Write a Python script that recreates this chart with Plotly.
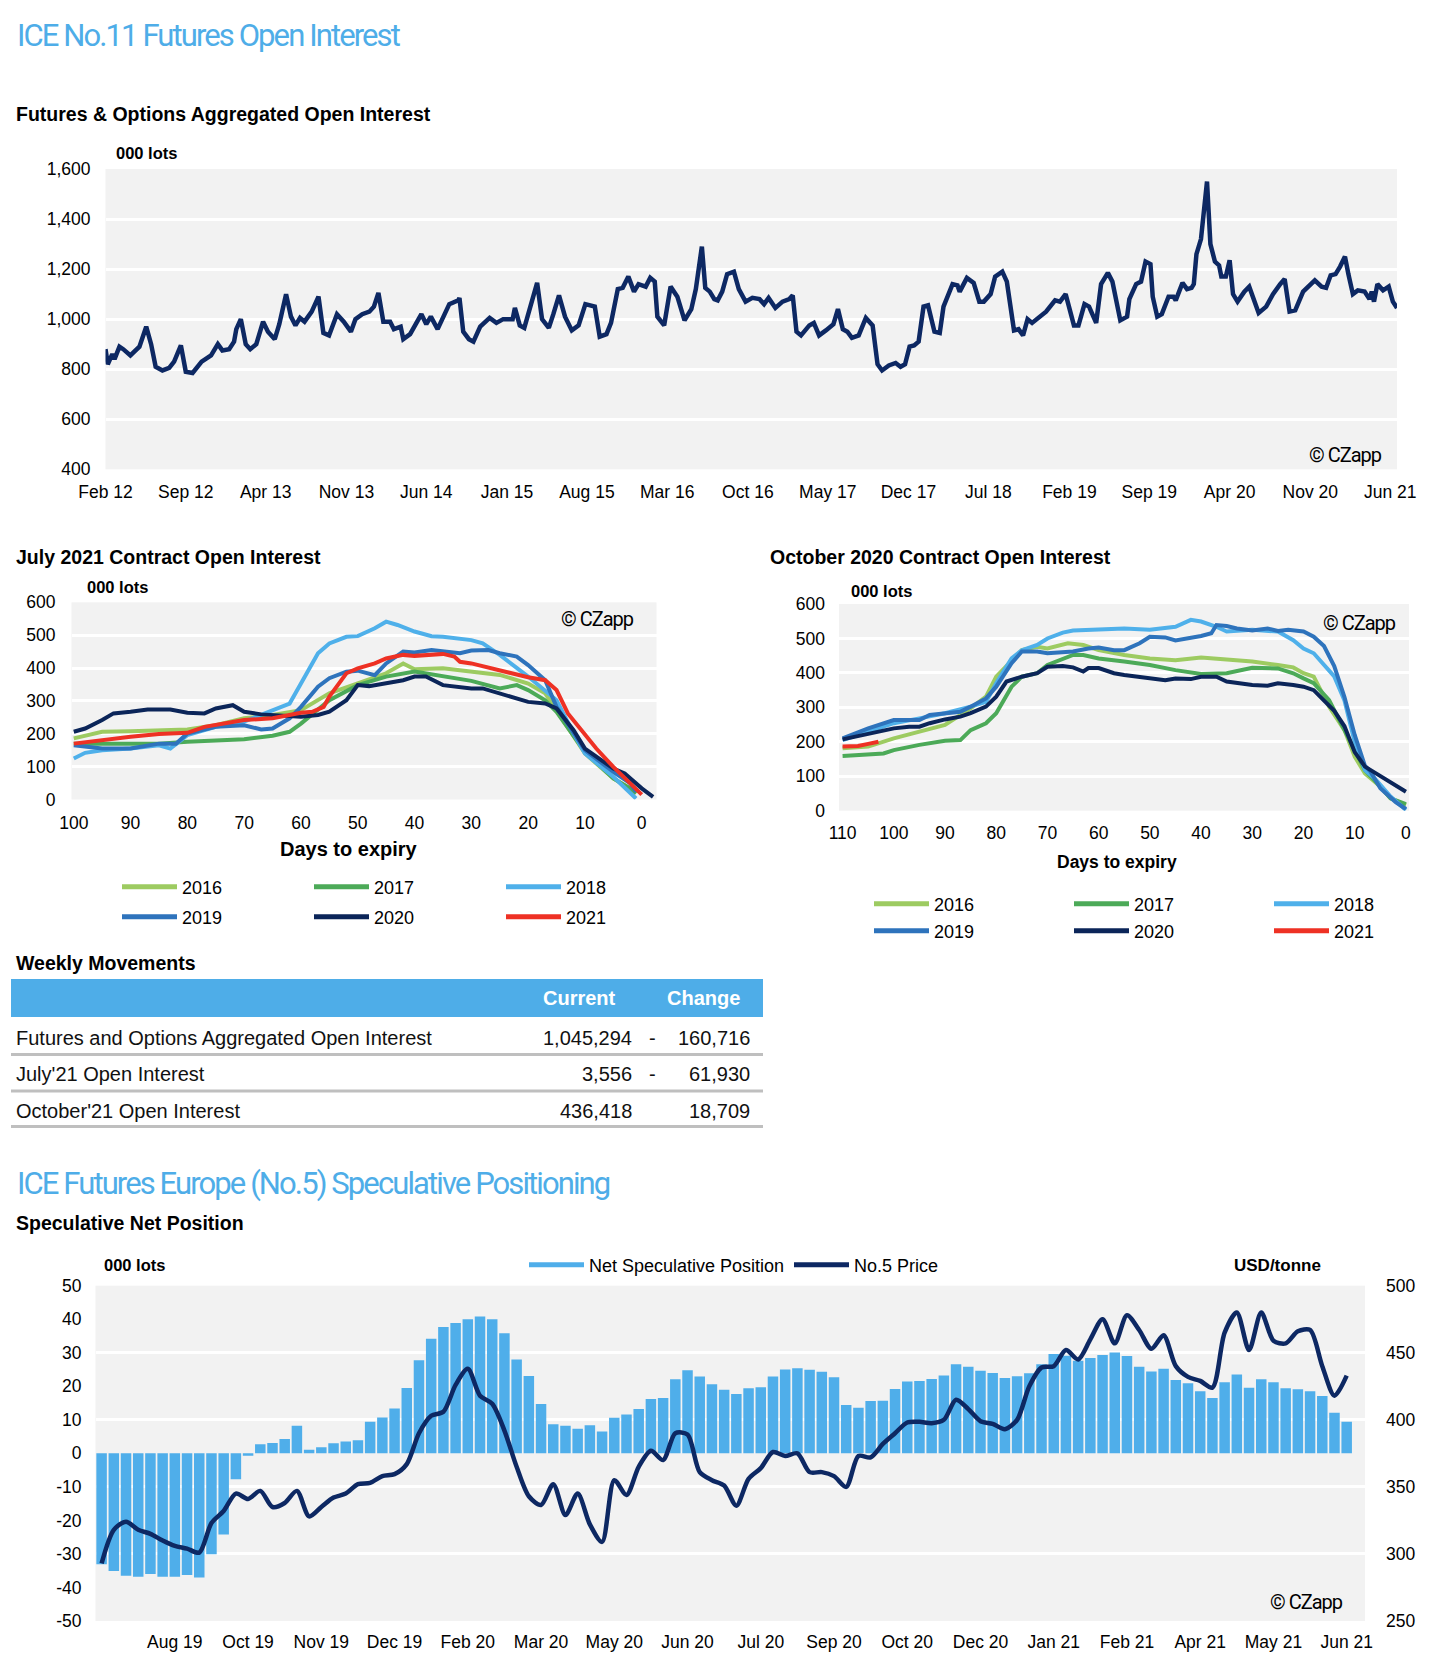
import plotly.graph_objects as go
import pandas as pd

W, H = 1446, 1678
def px(x): return x / W
def py(y): return 1 - y / H

FONT = "Liberation Sans, Arial, Helvetica, sans-serif"
NARROW = "Roboto, Liberation Sans, Arial, sans-serif"
BLUE_T = "#4EADE8"
NAVY = "#0D2863"
BAR = "#4FAEEA"
GRID = "#FFFFFF"
BG = "#F2F2F2"
COL = {"2016": "#9DCB61", "2017": "#4CAA58", "2018": "#4FB0EA",
       "2019": "#2E73BC", "2020": "#0B2559", "2021": "#EE3124"}

# ---------------- Top chart: aggregated open interest (000 lots) ----------------
TOP_DATES = [
 "2012-02-01","2012-02-07","2012-02-19","2012-02-25","2012-03-09","2012-03-19","2012-04-07","2012-04-19",
 "2012-05-01","2012-05-19","2012-06-01","2012-06-13","2012-07-01","2012-07-19","2012-08-01","2012-08-19",
 "2012-09-01","2012-09-19","2012-10-13","2012-11-07","2012-11-25","2012-12-07","2012-12-25","2013-01-07",
 "2013-01-13","2013-01-25","2013-02-07","2013-02-19","2013-03-07","2013-03-25","2013-04-07","2013-04-25",
 "2013-05-07","2013-05-25","2013-06-07","2013-06-19","2013-07-01","2013-07-13","2013-08-01","2013-08-19",
 "2013-09-01","2013-09-16","2013-10-07","2013-10-25","2013-11-13","2013-11-25","2013-12-13","2014-01-01",
 "2014-01-13","2014-01-25","2014-02-07","2014-02-25","2014-03-07","2014-03-25","2014-04-01","2014-04-19",
 "2014-05-01","2014-05-19","2014-06-01","2014-06-13","2014-07-01","2014-07-13","2014-08-01","2014-08-25",
 "2014-08-28","2014-09-07","2014-09-22","2014-10-04","2014-10-22","2014-11-16","2014-12-04","2014-12-22",
 "2015-01-16","2015-01-22","2015-02-04","2015-02-16","2015-03-04","2015-03-22","2015-04-04","2015-04-22",
 "2015-05-04","2015-05-19","2015-06-04","2015-06-22","2015-07-10","2015-07-28","2015-08-22","2015-09-04",
 "2015-09-22","2015-10-04","2015-10-22","2015-11-04","2015-11-19","2015-12-04","2015-12-16","2016-01-04",
 "2016-01-16","2016-01-28","2016-02-04","2016-02-22","2016-03-10","2016-03-28","2016-04-16","2016-05-04",
 "2016-05-16","2016-06-01","2016-06-10","2016-06-22","2016-07-04","2016-07-13","2016-07-25","2016-08-07",
 "2016-08-25","2016-09-07","2016-09-25","2016-10-13","2016-11-01","2016-11-13","2016-11-25","2016-12-13",
 "2017-01-01","2017-01-19","2017-01-28","2017-02-07","2017-02-19","2017-03-13","2017-03-25","2017-04-08",
 "2017-04-26","2017-05-16","2017-05-28","2017-06-10","2017-06-22","2017-07-04","2017-07-22","2017-08-10",
 "2017-08-28","2017-09-10","2017-09-22","2017-10-10","2017-10-28","2017-11-10","2017-11-22","2017-12-04",
 "2017-12-16","2017-12-28","2018-01-10","2018-01-22","2018-02-08","2018-02-22","2018-03-04","2018-03-28",
 "2018-04-10","2018-04-16","2018-05-05","2018-05-23","2018-06-07","2018-06-19","2018-07-07","2018-07-19",
 "2018-08-07","2018-08-19","2018-09-07","2018-09-19","2018-10-01","2018-10-13","2018-10-25","2018-11-13",
 "2018-12-01","2018-12-25","2019-01-07","2019-01-22","2019-02-13","2019-02-25","2019-03-13","2019-03-25",
 "2019-04-13","2019-04-26","2019-05-14","2019-05-26","2019-06-16","2019-07-04","2019-07-10","2019-07-28",
 "2019-08-10","2019-08-22","2019-09-04","2019-09-10","2019-09-22","2019-10-04","2019-10-22","2019-11-04",
 "2019-11-10","2019-11-28","2019-12-10","2019-12-22","2019-12-28","2020-01-04","2020-01-16","2020-02-01",
 "2020-02-10","2020-02-22","2020-03-04","2020-03-10","2020-03-22","2020-04-01","2020-04-10","2020-04-22",
 "2020-05-10","2020-05-23","2020-06-05","2020-06-17","2020-07-07","2020-07-25","2020-08-13","2020-08-25",
 "2020-09-07","2020-09-22","2020-10-13","2020-11-01","2020-11-13","2020-12-01","2020-12-13","2020-12-25",
 "2021-01-07","2021-01-19","2021-02-01","2021-02-10","2021-02-22","2021-03-07","2021-03-25","2021-04-07",
 "2021-04-13","2021-04-19","2021-04-28","2021-05-13","2021-05-28","2021-06-08","2021-06-19"]
TOP_OI = [
 880,820,860,840,890,880,855,870,890,970,900,810,795,805,830,895,
 790,785,830,855,900,875,880,910,960,1000,900,880,900,990,950,920,
 980,1100,1010,975,1005,990,1030,1090,945,935,1020,990,950,1000,1020,1030,
 1050,1105,990,990,960,970,920,940,975,1020,980,1010,960,1000,1060,1075,
 1085,950,920,910,970,1005,985,1000,1000,1045,975,965,1050,1145,1000,965,
 1020,1095,1010,955,975,1060,1050,930,940,985,1120,1125,1170,1110,1140,1130,
 1165,1150,1010,975,1130,1090,995,1040,1120,1290,1125,1110,1080,1075,1110,1180,
 1190,1120,1070,1085,1080,1060,1085,1045,1070,1080,1095,950,935,975,985,935,
 955,980,1040,960,950,925,935,1005,975,820,795,815,825,810,820,890,
 895,910,1050,1055,950,945,1050,1140,1135,1110,1165,1145,1070,1070,1100,1170,
 1190,1150,955,960,935,1000,985,1010,1030,1075,1070,1100,975,975,1060,1050,
 985,1140,1185,1150,995,1010,1080,1140,1150,1230,1220,1090,1010,1020,1090,1090,
 1075,1145,1120,1125,1140,1260,1320,1550,1300,1230,1215,1170,1170,1235,1100,1070,
 1110,1130,1070,1025,1050,1100,1140,1160,1030,1035,1110,1135,1155,1130,1125,1175,
 1180,1210,1250,1180,1100,1115,1110,1080,1110,1070,1140,1115,1130,1070,1045]
TOP_TICK_DATES = ["2012-02-01","2012-09-01","2013-04-01","2013-11-01","2014-06-01","2015-01-01",
                  "2015-08-01","2016-03-01","2016-10-01","2017-05-01","2017-12-01","2018-07-01",
                  "2019-02-01","2019-09-01","2020-04-01","2020-11-01","2021-06-01"]
TOP_TICK_TEXT = ["Feb 12","Sep 12","Apr 13","Nov 13","Jun 14","Jan 15","Aug 15","Mar 16","Oct 16",
                 "May 17","Dec 17","Jul 18","Feb 19","Sep 19","Apr 20","Nov 20","Jun 21"]

# ---------------- July 2021 contract open interest (days to expiry, 000 lots) ----------------
JUL_D_2016 = [100,95,90,85,80,75,70,65,60,55,50,45,42,40,35,30,25,20,17,15,10,5,2,1]
JUL_2016 = [186,206,208,210,213,226,247,257,272,323,353,384,414,396,399,389,379,353,323,272,140,64,33,18]
JUL_D_2017 = [100,95,90,85,80,75,70,65,62,60,55,50,45,40,35,30,25,22,20,17,15,10,5,2,1]
JUL_2017 = [170,170,170,170,176,179,183,194,206,231,302,348,374,389,374,361,338,348,333,302,267,145,64,33,18]
JUL_D_2018 = [100,98,95,90,85,83,80,75,70,65,62,60,57,55,52,50,47,45,43,40,37,35,30,28,25,20,15,12,10,5,2,1]
JUL_2018 = [125,142,150,155,165,155,196,221,237,272,292,353,445,475,495,497,521,541,531,511,497,495,485,475,440,374,302,201,140,69,18,3]
JUL_D_2019 = [100,95,90,85,82,80,75,70,67,65,62,60,57,55,52,50,47,45,42,40,37,35,32,30,27,25,22,20,17,15,12,10,5,2,1]
JUL_2019 = [165,155,155,170,170,201,221,226,213,216,247,282,343,369,389,392,378,414,450,447,455,450,445,453,455,445,435,409,363,282,201,150,84,49,23]
JUL_D_2020 = [100,98,95,93,90,87,83,80,77,75,72,70,67,65,62,60,57,55,52,50,48,45,42,40,38,35,30,28,25,22,20,17,15,12,10,5,3,0,-2]
JUL_2020 = [206,216,242,262,267,274,274,264,262,277,287,267,259,257,252,252,257,267,302,348,345,353,363,374,374,348,338,338,323,308,297,292,277,211,155,94,79,34,8]
JUL_D_2021 = [100,95,90,85,80,77,74,70,65,62,60,58,56,55,52,50,47,45,42,40,35,33,32,30,25,22,20,17,15,13,10,8,5,3,0]
JUL_2021 = [170,181,191,199,203,221,231,242,247,257,264,267,282,313,384,399,414,429,440,437,443,435,419,414,394,379,372,363,333,262,196,155,99,64,15]

# ---------------- October 2020 contract open interest ----------------
OCT_D_2016 = [110,105,100,95,90,85,82,80,77,75,72,70,66,63,60,55,50,45,40,35,30,25,22,20,18,15,12,10,8,5,3,0]
OCT_2016 = [181,186,210,229,249,297,331,389,437,466,476,471,486,481,466,452,442,437,445,440,433,423,416,399,389,302,234,157,108,70,36,16]
OCT_D_2017 = [110,105,102,100,95,90,87,85,82,80,77,75,72,70,67,65,63,60,55,50,45,40,35,32,30,25,22,20,18,15,12,10,8,5,3,0]
OCT_2017 = [159,162,166,176,191,203,205,234,254,283,360,389,399,423,442,452,452,442,433,423,408,397,399,408,415,413,399,384,370,321,234,176,118,70,36,19]
OCT_D_2018 = [110,105,100,95,90,85,82,80,77,75,72,70,67,65,60,55,50,45,42,40,37,35,30,25,22,20,18,16,14,12,10,8,6,3,0]
OCT_2018 = [205,229,254,268,283,302,316,370,442,466,481,500,517,523,527,529,525,534,554,549,534,520,525,520,495,471,457,425,390,320,200,118,92,41,2]
OCT_D_2019 = [110,107,105,100,95,93,90,87,85,82,80,77,75,72,70,65,62,60,57,55,52,50,47,45,40,38,37,35,33,30,27,25,23,20,18,16,14,12,10,8,7,5,2,0]
OCT_2019 = [210,229,239,263,263,278,283,287,302,326,360,428,462,462,457,462,471,474,466,466,486,505,503,494,507,515,539,536,529,523,529,522,525,520,505,478,420,330,220,130,115,65,25,5]
OCT_D_2020 = [110,105,100,97,95,93,90,87,85,82,80,78,75,72,70,67,65,63,62,60,57,55,52,50,47,45,42,40,37,35,32,30,27,25,22,20,18,16,14,12,10,8,6,4,2,0]
OCT_2020 = [207,223,239,244,244,254,265,273,283,302,331,375,389,399,418,420,416,404,414,414,399,394,389,384,379,384,382,389,389,375,370,365,363,370,365,360,350,321,290,245,170,128,110,90,72,55]
OCT_D_2021 = [110,107,105,103]
OCT_2021 = [186,188,194,200]

# ---------------- Weekly movements table ----------------
TABLE_LABELS = ["Futures and Options Aggregated Open Interest", "July'21 Open Interest", "October'21 Open Interest"]
TABLE_CURRENT = [1045294, 3556, 436418]
TABLE_CHANGE = [-160716, -61930, 18709]

# ---------------- No.5 speculative positioning (weekly) ----------------
NET_SPEC = [-33.1,-35.1,-36.5,-36.8,-36.0,-36.8,-36.8,-36.3,-37.0,-30.1,-24.2,-7.7,-0.7,2.7,3.1,4.3,8.2,1.1,1.8,3.0,
            3.5,3.9,9.4,10.7,13.4,19.5,27.8,34.2,37.7,38.9,40.0,40.8,40.0,35.8,28.0,23.1,14.7,8.7,8.2,7.3,
            8.4,6.5,10.6,11.6,13.2,16.2,16.5,22.1,24.8,22.9,20.6,19.0,17.7,19.4,19.7,22.9,25.0,25.4,24.9,24.3,
            22.7,14.4,13.6,15.6,15.7,19.2,21.4,21.6,22.2,23.2,26.6,25.8,24.6,24.0,22.5,23.0,23.9,26.6,29.6,29.1,
            27.6,28.4,29.3,30.1,29.0,25.8,24.4,25.2,21.9,20.9,18.5,16.5,21.2,23.5,19.6,22.1,21.2,19.4,19.1,18.5,
            17.1,12.1,9.4]
NO5_PRICE = [293,318,324,318,315,310,306,304,301,323,332,345,341,347,335,338,347,328,335,342,
             345,352,353,358,359.5,367,390,403,406,426,438,418,412,392,365,343,336.5,352,329,345,
             322,309,355,344,365,377,370,390,389,361,355,351,336,356,364,376,373,375,361,361,
             358,350,373,372,382,390,398,398.5,397.5,400,415,408,399,397,393,400,425,439,440,452,
             445,460,475,457,478,467,453,463,440,432,429,424,465,480,452,480,459,457,466,467,
             440,418,433]
NET_TICKS = [-50, -40, -30, -20, -10, 0, 10, 20, 30, 40, 50]
WEEKS = pd.date_range("2019-07-16", periods=len(NET_SPEC), freq="7D")
WEEK_CATS = list(WEEKS.strftime("%Y-%m-%d"))
WEEK_TICKS = WEEK_CATS[6::6]
WEEK_TICK_TEXT = list(WEEKS[6::6].strftime("%b %y"))

fig = go.Figure()

fig.add_trace(go.Scatter(x=TOP_DATES, y=TOP_OI, mode="lines", line=dict(color=NAVY, width=4.5),
                         xaxis="x", yaxis="y", showlegend=False, name="Aggregated OI"))

jul = [("2016", JUL_D_2016, JUL_2016), ("2017", JUL_D_2017, JUL_2017), ("2018", JUL_D_2018, JUL_2018),
       ("2019", JUL_D_2019, JUL_2019), ("2020", JUL_D_2020, JUL_2020), ("2021", JUL_D_2021, JUL_2021)]
for i, (yr, d, v) in enumerate(jul):
    fig.add_trace(go.Scatter(x=d, y=v, mode="lines", name=yr, line=dict(color=COL[yr], width=4),
                             xaxis="x2", yaxis="y2", legend="legend" if i < 3 else "legend2",
                             legendwidth=122 if i % 3 < 2 else 50))

octo = [("2016", OCT_D_2016, OCT_2016), ("2017", OCT_D_2017, OCT_2017), ("2018", OCT_D_2018, OCT_2018),
        ("2019", OCT_D_2019, OCT_2019), ("2020", OCT_D_2020, OCT_2020), ("2021", OCT_D_2021, OCT_2021)]
for i, (yr, d, v) in enumerate(octo):
    fig.add_trace(go.Scatter(x=d, y=v, mode="lines", name=yr, line=dict(color=COL[yr], width=4),
                             xaxis="x3", yaxis="y3", legend="legend3" if i < 3 else "legend4",
                             legendwidth=130 if i % 3 < 2 else 50))

fig.add_trace(go.Bar(x=WEEK_CATS, y=NET_SPEC, marker=dict(color=BAR, line=dict(width=0)),
                     xaxis="x4", yaxis="y4", showlegend=False, name="Net Speculative Position",
                     legendgroup="ns"))
fig.add_trace(go.Scatter(x=[None], y=[None], mode="lines", line=dict(color=BAR, width=8),
                         name="Net Speculative Position", legendgroup="ns", legend="legend5",
                         xaxis="x4", yaxis="y4", legendwidth=195))
fig.add_trace(go.Scatter(x=WEEK_CATS, y=NO5_PRICE, mode="lines", name="No.5 Price",
                         line=dict(color=NAVY, width=4.5, shape="spline", smoothing=0.8),
                         xaxis="x4", yaxis="y5", legend="legend5", legendwidth=100))

tickf = dict(family=FONT, size=17.5, color="#000")
common = dict(showline=False, zeroline=False, ticks="", tickfont=tickf, fixedrange=True, automargin=False)

layout = dict(
    width=W, height=H, autosize=False, margin=dict(l=0, r=0, t=0, b=0, autoexpand=False),
    paper_bgcolor="white", plot_bgcolor=BG, bargap=0.14,
    font=dict(family=FONT, color="#000"),
    xaxis=dict(domain=[px(105.5), px(1397)], anchor="y", type="date",
               range=["2012-02-01", "2021-06-19"], tickvals=TOP_TICK_DATES, ticktext=TOP_TICK_TEXT,
               showgrid=False, ticklabelstandoff=10, **common),
    yaxis=dict(domain=[py(469.3), py(169)], anchor="x", range=[400, 1600], dtick=200,
               tickformat=",d", showgrid=True, gridcolor=GRID, gridwidth=2.5, ticklabelstandoff=14, **common),
    xaxis2=dict(domain=[px(71.5), px(656.5)], anchor="y2", range=[100.4, -2.6],
                tickvals=list(range(100, -1, -10)), showgrid=False, ticklabelstandoff=11, **common),
    yaxis2=dict(domain=[py(799.5), py(602.3)], anchor="x2", range=[0, 600], dtick=100,
                showgrid=True, gridcolor=GRID, gridwidth=2.5, ticklabelstandoff=15, **common),
    xaxis3=dict(domain=[px(839), px(1409)], anchor="y3", range=[110.7, -0.6],
                tickvals=list(range(110, -1, -10)), showgrid=False, ticklabelstandoff=10, **common),
    yaxis3=dict(domain=[py(810.7), py(604)], anchor="x3", range=[0, 600], dtick=100,
                showgrid=True, gridcolor=GRID, gridwidth=2.5, ticklabelstandoff=13, **common),
    xaxis4=dict(domain=[px(95.5), px(1365)], anchor="y4", type="category", range=[-0.5, 103.5],
                tickvals=WEEK_TICKS, ticktext=WEEK_TICK_TEXT, showgrid=False, ticklabelstandoff=8, **common),
    yaxis4=dict(domain=[py(1621), py(1285.7)], anchor="x4", range=[-50, 50],
                tickvals=NET_TICKS, ticktext=[str(v) for v in NET_TICKS],
                showgrid=False, ticklabelstandoff=13, **common),
    yaxis5=dict(overlaying="y4", anchor="x4", side="right", range=[250, 500], dtick=50,
                showgrid=True, gridcolor=GRID, gridwidth=2.5, ticklabelstandoff=20, **common),
)

def legend_at(x, y):
    return dict(x=px(x), y=py(y), xanchor="left", yanchor="middle", orientation="h",
                bgcolor="rgba(0,0,0,0)", borderwidth=0, itemwidth=55, itemsizing="constant",
                font=dict(family=FONT, size=18, color="#000"), traceorder="normal")

# legend item origin = text start - (itemwidth + 10)
layout["legend"] = legend_at(182 - 65, 887)
layout["legend2"] = legend_at(182 - 65, 917)
layout["legend3"] = legend_at(934 - 65, 904)
layout["legend4"] = legend_at(934 - 65, 931)
layout["legend5"] = legend_at(589 - 65, 1265)

fig.update_layout(**layout)

def ann(text, x, y, size, bold=False, family=FONT, color="#000", xanchor="left", spacing=None):
    t = f"<b>{text}</b>" if bold else text
    if spacing is not None:
        t = f'<span style="letter-spacing:{spacing}px">{t}</span>'
    fig.add_annotation(text=t, x=px(x), y=py(y),
                       xref="paper", yref="paper", xanchor=xanchor, yanchor="middle",
                       showarrow=False, font=dict(family=family, size=size, color=color))

ann("ICE No.11 Futures Open Interest", 15, 35.5, 31, family=NARROW, color=BLUE_T, spacing=-1.9)
ann("Futures &amp; Options Aggregated Open Interest", 14, 114, 19.5, bold=True)
ann("000 lots", 114, 153, 16.5, bold=True)
ann("© CZapp", 1384, 455, 20, family=NARROW, xanchor="right", spacing=-1)

ann("July 2021 Contract Open Interest", 14, 557, 19.5, bold=True)
ann("000 lots", 85, 587, 16.5, bold=True)
ann("© CZapp", 636, 619, 20, family=NARROW, xanchor="right", spacing=-1)
ann("Days to expiry", 349, 849, 20, bold=True, xanchor="center")

ann("October 2020 Contract Open Interest", 768, 557, 19.5, bold=True)
ann("000 lots", 849, 591, 16.5, bold=True)
ann("© CZapp", 1398, 623, 20, family=NARROW, xanchor="right", spacing=-1)
ann("Days to expiry", 1117, 862, 17.5, bold=True, xanchor="center")

ann("Weekly Movements", 14, 963, 19.5, bold=True)
fig.add_shape(type="rect", xref="paper", yref="paper", x0=px(11), x1=px(763), y0=py(1017), y1=py(979),
              fillcolor=BLUE_T, line=dict(width=0), layer="above")
ann("Current", 618, 998, 20, bold=True, color="white", xanchor="right")
ann("Change", 742, 998, 20, bold=True, color="white", xanchor="right")
ROW_Y = [1037.5, 1074, 1111]
SEP_Y = [1054.5, 1091, 1126.5]
for lab, cur, chg, ry, sy in zip(TABLE_LABELS, TABLE_CURRENT, TABLE_CHANGE, ROW_Y, SEP_Y):
    ann(lab, 14, ry, 20, color="#111")
    ann(f"{cur:,}", 634, ry, 20, color="#111", xanchor="right")
    if chg < 0:
        ann("-", 652, ry, 20, color="#111", xanchor="center")
    ann(f"{abs(chg):,}", 752, ry, 20, color="#111", xanchor="right")
    fig.add_shape(type="line", xref="paper", yref="paper", x0=px(11), x1=px(763), y0=py(sy), y1=py(sy),
                  line=dict(color="#BFBFBF", width=3))

ann("ICE Futures Europe (No.5) Speculative Positioning", 15, 1183, 31, family=NARROW, color=BLUE_T, spacing=-1.9)
ann("Speculative Net Position", 14, 1223, 19.5, bold=True)
ann("000 lots", 102, 1265, 16.5, bold=True)
ann("USD/tonne", 1323, 1265, 17, bold=True, xanchor="right")
ann("© CZapp", 1345, 1602, 20, family=NARROW, xanchor="right", spacing=-1)

fig.write_html("out.html", config={"displayModeBar": False},
               post_script="document.body.style.margin='0';document.body.style.overflow='hidden';")
